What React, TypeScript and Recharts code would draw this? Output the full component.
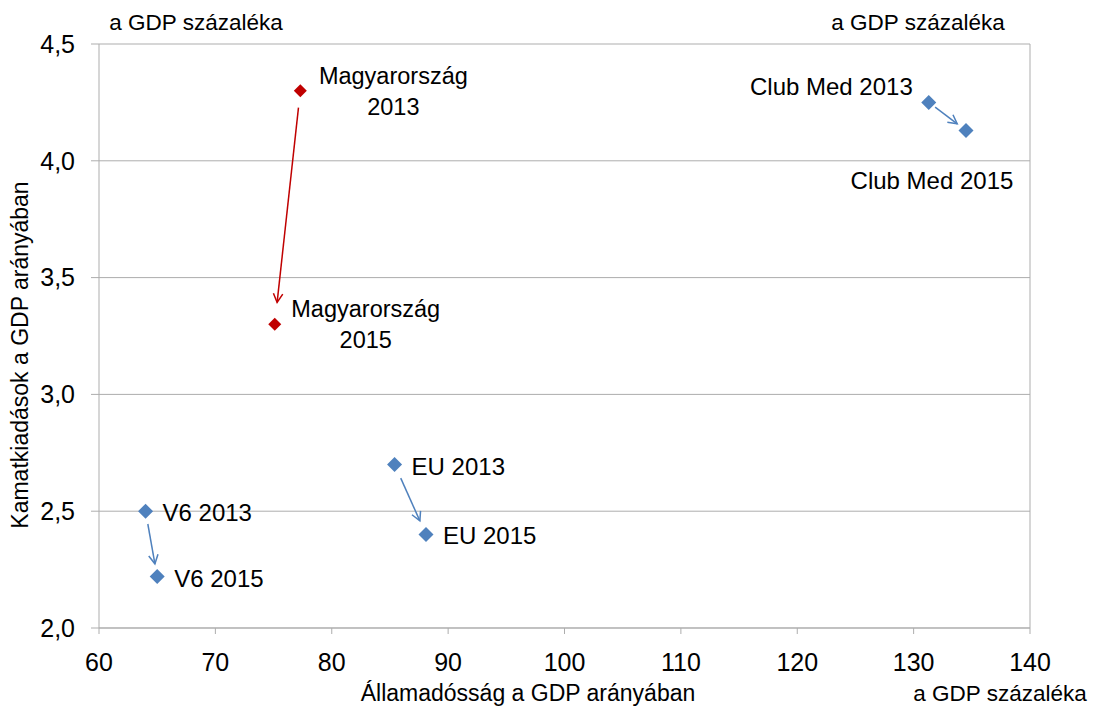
import React from 'react';
import {
  ScatterChart,
  Scatter,
  XAxis,
  YAxis,
  CartesianGrid,
  ReferenceLine,
  LabelList,
} from 'recharts';

// értékek a GDP százalékában
const countries = ['Magyarország', 'Club Med', 'EU', 'V6'];
const debt2013 = [77.3, 131.3, 85.4, 64.0];
const interest2013 = [4.3, 4.25, 2.7, 2.5];
const debt2015 = [75.1, 134.5, 88.1, 65.0];
const interest2015 = [3.3, 4.13, 2.4, 2.22];

const xTicks = [60, 70, 80, 90, 100, 110, 120, 130, 140];
const yTicks = [2.0, 2.5, 3.0, 3.5, 4.0, 4.5];

const RED = '#C00000';
const BLUE = '#4F81BD';
const GRID = '#ADADAD';
const FONT = '"Liberation Sans", Arial, sans-serif';

const rows = countries.flatMap((c, i) => [
  { name: c, year: 2013, x: debt2013[i], y: interest2013[i] },
  { name: c, year: 2015, x: debt2015[i], y: interest2015[i] },
]);
const hungary = rows.filter((r) => r.name === 'Magyarország');
const others = rows.filter((r) => r.name !== 'Magyarország');

// label placement relative to the marker (pixels)
const labelPos: Record<string, { dx: number; dy: number; anchor: string; twoLine?: boolean }> = {
  'Magyarország 2013': { dx: 93, dy: 0, anchor: 'middle', twoLine: true },
  'Magyarország 2015': { dx: 91, dy: 0, anchor: 'middle', twoLine: true },
  'Club Med 2013': { dx: -16, dy: -16, anchor: 'end' },
  'Club Med 2015': { dx: -34, dy: 50, anchor: 'middle' },
  'EU 2013': { dx: 17, dy: 2, anchor: 'start' },
  'EU 2015': { dx: 17, dy: 1, anchor: 'start' },
  'V6 2013': { dx: 17, dy: 1, anchor: 'start' },
  'V6 2015': { dx: 17, dy: 2, anchor: 'start' },
};

const arrowInset: Record<string, [number, number]> = {
  'Magyarország': [17, 22],
  'Club Med': [8, 11],
  'EU': [15, 15],
  'V6': [13, 13],
};

const diamond = (half: number) => (props: any) => {
  const { cx, cy, fill } = props;
  return (
    <polygon
      points={`${cx},${cy - half} ${cx + half},${cy} ${cx},${cy + half} ${cx - half},${cy}`}
      fill={fill}
    />
  );
};

const arrow = (color: string, inset: [number, number]) => (p: any) => {
  const { x1, y1, x2, y2 } = p;
  const len = Math.hypot(x2 - x1, y2 - y1);
  const ux = (x2 - x1) / len;
  const uy = (y2 - y1) / len;
  const sx = x1 + ux * inset[0];
  const sy = y1 + uy * inset[0];
  const ex = x2 - ux * inset[1];
  const ey = y2 - uy * inset[1];
  const head = 10;
  const a = (28 * Math.PI) / 180;
  const wing = (s: number) => {
    const bx = -ux;
    const by = -uy;
    const rx = bx * Math.cos(s * a) - by * Math.sin(s * a);
    const ry = bx * Math.sin(s * a) + by * Math.cos(s * a);
    return `${ex + rx * head},${ey + ry * head}`;
  };
  return (
    <g>
      <line x1={sx} y1={sy} x2={ex} y2={ey} stroke={color} strokeWidth={1.5} />
      <polyline
        points={`${wing(1)} ${ex},${ey} ${wing(-1)}`}
        fill="none"
        stroke={color}
        strokeWidth={1.5}
      />
    </g>
  );
};

const pointLabel = (props: any) => {
  const { x, y, width, height, value } = props;
  const cx = x + (width || 0) / 2;
  const cy = y + (height || 0) / 2;
  const pos = labelPos[value];
  if (!pos) return null;
  const parts = value.split(' ');
  const year = parts[parts.length - 1];
  const title = parts.slice(0, -1).join(' ');
  if (pos.twoLine) {
    return (
      <text x={cx + pos.dx} y={cy} textAnchor="middle" fontSize={23.5} fontFamily={FONT} fill="#000">
        <tspan x={cx + pos.dx} dy={-7}>{title}</tspan>
        <tspan x={cx + pos.dx} dy={31}>{year}</tspan>
      </text>
    );
  }
  return (
    <text
      x={cx + pos.dx}
      y={cy + pos.dy}
      textAnchor={pos.anchor as any}
      dominantBaseline="central"
      fontSize={24}
      fontFamily={FONT}
      fill="#000"
    >
      {value}
    </text>
  );
};

const fmt = (v: number) => v.toFixed(1).replace('.', ',');

export default function App() {
  const hData = hungary.map((r) => ({ ...r, label: `${r.name} ${r.year}` }));
  const oData = others.map((r) => ({ ...r, label: `${r.name} ${r.year}` }));
  return (
    <div style={{ position: 'absolute', left: 0, top: 0 }}>
      <ScatterChart
        width={1095}
        height={709}
        margin={{ top: 44, right: 0, bottom: 0, left: 0 }}
      >
        <CartesianGrid vertical={false} stroke={GRID} strokeWidth={1} />
        <XAxis
          type="number"
          dataKey="x"
          domain={[60, 140]}
          ticks={xTicks}
          height={81}
          stroke={GRID}
          tickSize={6}
          tickMargin={19}
          tick={{ fill: '#000', fontSize: 25, fontFamily: FONT }}
          label={{
            content: () => (
              <g fontFamily={FONT} fontSize={23} fill="#000">
                <text x={528} y={693} textAnchor="middle" dominantBaseline="central">
                  Államadósság a GDP arányában
                </text>
                <text x={1000} y={693} textAnchor="middle" dominantBaseline="central" fontSize={22.5}>
                  a GDP százaléka
                </text>
              </g>
            ),
          }}
        />
        <YAxis
          type="number"
          dataKey="y"
          domain={[2, 4.5]}
          ticks={yTicks}
          width={99}
          stroke={GRID}
          tickSize={8}
          tickMargin={16}
          tickFormatter={fmt}
          tick={{ fill: '#000', fontSize: 25, fontFamily: FONT }}
          label={{
            content: () => (
              <g fontFamily={FONT} fontSize={23} fill="#000">
                <text
                  x={20}
                  y={355}
                  textAnchor="middle"
                  dominantBaseline="central"
                  transform="rotate(-90 20 355)"
                >
                  Kamatkiadások a GDP arányában
                </text>
                <text x={196} y={22} textAnchor="middle" dominantBaseline="central" fontSize={22.5}>
                  a GDP százaléka
                </text>
              </g>
            ),
          }}
        />
        <YAxis
          yAxisId="right"
          orientation="right"
          type="number"
          domain={[2, 4.5]}
          ticks={yTicks}
          width={65}
          stroke={GRID}
          tickSize={8}
          tickMargin={15}
          tickFormatter={fmt}
          tick={{ fill: '#000', fontSize: 25, fontFamily: FONT, textAnchor: 'start' }}
          label={{
            content: () => (
              <text
                x={918}
                y={22}
                textAnchor="middle"
                dominantBaseline="central"
                fontFamily={FONT}
                fontSize={22.5}
                fill="#000"
              >
                a GDP százaléka
              </text>
            ),
          }}
        />
        {countries.map((c, i) => (
          <ReferenceLine
            key={c}
            segment={[
              { x: debt2013[i], y: interest2013[i] },
              { x: debt2015[i], y: interest2015[i] },
            ]}
            shape={arrow(c === 'Magyarország' ? RED : BLUE, arrowInset[c])}
          />
        ))}
        <Scatter data={oData} fill={BLUE} shape={diamond(7.5)} isAnimationActive={false}>
          <LabelList dataKey="label" content={pointLabel} />
        </Scatter>
        <Scatter data={hData} fill={RED} shape={diamond(6.5)} isAnimationActive={false}>
          <LabelList dataKey="label" content={pointLabel} />
        </Scatter>
      </ScatterChart>
    </div>
  );
}
